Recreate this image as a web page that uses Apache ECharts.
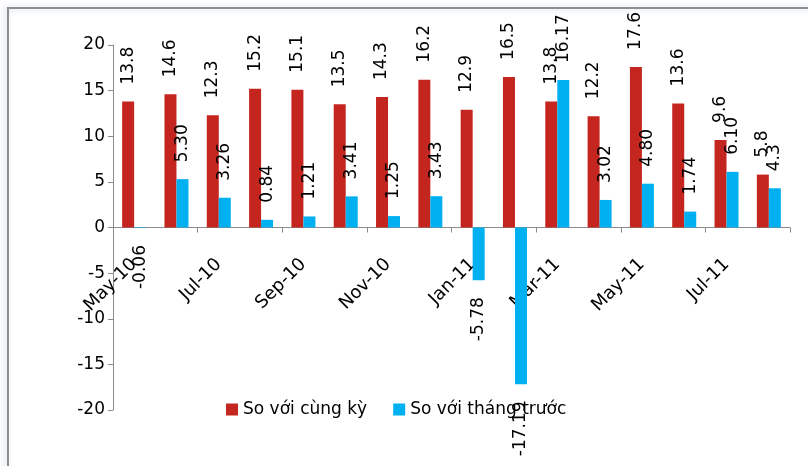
<!DOCTYPE html>
<html>
<head>
<meta charset="utf-8">
<script src="https://cdn.jsdelivr.net/npm/echarts@6/dist/echarts.min.js"></script>
<style>
  html, body { margin: 0; padding: 0; background: #fff; }
  #chart { width: 808px; height: 466px; }
</style>
</head>
<body>
<div id="chart"></div>
<script>
// Monthly categories, May 2010 – Aug 2011
const months = ['May-10', 'Jun-10', 'Jul-10', 'Aug-10', 'Sep-10', 'Oct-10', 'Nov-10', 'Dec-10',
                'Jan-11', 'Feb-11', 'Mar-11', 'Apr-11', 'May-11', 'Jun-11', 'Jul-11', 'Aug-11'];

// Change versus same period last year (%)
const yearOnYear = [13.8, 14.6, 12.3, 15.2, 15.1, 13.5, 14.3, 16.2, 12.9, 16.5, 13.8, 12.2, 17.6, 13.6, 9.6, 5.8];

// Change versus previous month (%), kept as written so labels keep their decimals
const monthOnMonth = ['-0.06', '5.30', '3.26', '0.84', '1.21', '3.41', '1.25', '3.43',
                      '-5.78', '-17.19', '16.17', '3.02', '4.80', '1.74', '6.10', '4.3'];

const yTicks = { min: -20, max: 20, step: 5 };

const seriesNames = ['So với cùng kỳ', 'So với tháng trước'];

const RED = '#C4261F';
const BLUE = '#00B0F0';
const FONT = 'DejaVu Sans';

const GRID_TOP = 45;
const GRID_BOTTOM = 56;
const CHART_H = 466;
// the category axis sits on the zero line, halfway down the symmetric value range
const zeroOffset = -((CHART_H - GRID_TOP - GRID_BOTTOM) * (0 - yTicks.min) / (yTicks.max - yTicks.min));

const labelUp = { position: 'top', rotate: 90, align: 'left', verticalAlign: 'middle', distance: 17 };
const labelDown = { position: 'bottom', rotate: 90, align: 'right', verticalAlign: 'middle', distance: 17 };

function toItems(values) {
  return values.map(v => ({
    value: v,
    label: Number(v) < 0 ? labelDown : labelUp
  }));
}

const chart = echarts.init(document.getElementById('chart'), null, { renderer: 'canvas' });

chart.setOption({
  animation: false,
  backgroundColor: '#fff',
  graphic: [{
    type: 'rect',
    shape: { x: 8, y: 8, width: 840, height: 500 },
    style: { fill: 'none', stroke: '#8e8e8e', lineWidth: 2, shadowColor: 'rgba(120,150,190,0.45)', shadowBlur: 6, shadowOffsetX: -2 },
    silent: true,
    z: -1
  }],
  grid: { left: 113, right: 18, top: GRID_TOP, bottom: GRID_BOTTOM, containLabel: false },
  legend: {
    data: seriesNames,
    left: 221,
    top: 396,
    itemWidth: 12,
    itemHeight: 12,
    itemGap: 26,
    icon: 'rect',
    textStyle: { fontFamily: FONT, fontSize: 17, color: '#000' }
  },
  xAxis: {
    type: 'category',
    data: months,
    offset: zeroOffset,
    axisLine: { onZero: false, lineStyle: { color: '#8c8c8c', width: 1 } },
    axisTick: { show: true, interval: 1, length: 5, lineStyle: { color: '#8c8c8c' } },
    axisLabel: {
      interval: 1,
      rotate: 45,
      margin: 34,
      hideOverlap: false,
      color: '#000',
      fontFamily: FONT,
      fontSize: 18
    },
    splitLine: { show: false }
  },
  yAxis: {
    type: 'value',
    min: yTicks.min,
    max: yTicks.max,
    interval: yTicks.step,
    axisLine: { show: true, lineStyle: { color: '#8c8c8c', width: 1 } },
    axisTick: { show: true, length: 5, lineStyle: { color: '#8c8c8c' } },
    axisLabel: { color: '#000', fontFamily: FONT, fontSize: 17, margin: 8, hideOverlap: false },
    splitLine: { show: false }
  },
  series: [
    {
      name: seriesNames[0],
      type: 'bar',
      data: toItems(yearOnYear),
      barWidth: 12,
      barGap: '0%',
      itemStyle: { color: RED },
      label: {
        show: true,
        color: '#000',
        fontFamily: FONT,
        fontSize: 17,
        formatter: p => Number(p.value).toFixed(1)
      }
    },
    {
      name: seriesNames[1],
      type: 'bar',
      data: toItems(monthOnMonth),
      barWidth: 12,
      barGap: '0%',
      itemStyle: { color: BLUE },
      label: {
        show: true,
        color: '#000',
        fontFamily: FONT,
        fontSize: 17,
        formatter: p => monthOnMonth[p.dataIndex]
      }
    }
  ]
});
</script>
</body>
</html>
